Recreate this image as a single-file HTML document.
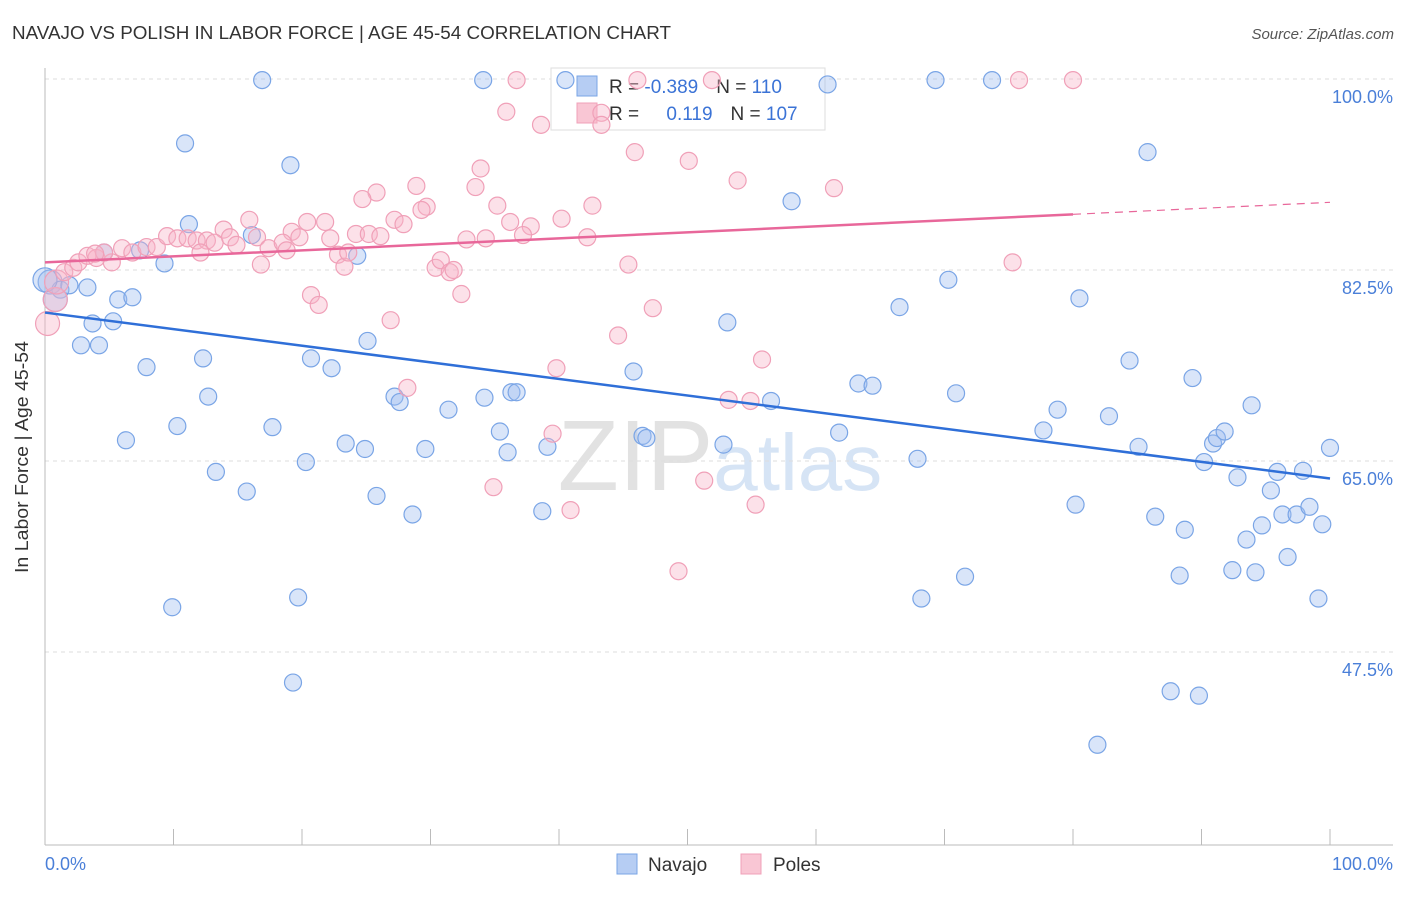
<!DOCTYPE html>
<html><head><meta charset="utf-8"><style>
body{margin:0;background:#fff;font-family:"Liberation Sans",sans-serif}
svg text{font-family:"Liberation Sans",sans-serif}
</style></head><body>
<svg id="c" width="1406" height="892" viewBox="0 0 1406 892">
<text x="12" y="39" font-size="18" fill="#333" textLength="659" lengthAdjust="spacingAndGlyphs">NAVAJO VS POLISH IN LABOR FORCE | AGE 45-54 CORRELATION CHART</text>
<text x="1394" y="39" font-size="15" fill="#555" font-style="italic" text-anchor="end">Source: ZipAtlas.com</text>
<text x="720" y="490" font-size="100" fill="#e6e6e6" text-anchor="middle" font-family="Liberation Serif"><tspan fill="#e2e2e2">ZIP</tspan><tspan fill="#d6e4f5" font-family="Liberation Sans" font-size="80">atlas</tspan></text>
<g id="grid"></g>
<line x1="45" y1="68" x2="45" y2="845" stroke="#bbb"/>
<line x1="45" y1="845" x2="1393" y2="845" stroke="#bbb"/>
<g id="xt"></g>
<text x="28" y="457" font-size="18" fill="#333" text-anchor="middle" textLength="232" lengthAdjust="spacingAndGlyphs" transform="rotate(-90 28 457)">In Labor Force | Age 45-54</text>
<text x="45" y="870" font-size="18" fill="#4a7fd8">0.0%</text>
<text x="1393" y="870" font-size="18" fill="#4a7fd8" text-anchor="end">100.0%</text>
<g>
<rect x="551" y="68" width="274" height="62" fill="#fff" stroke="#ddd"/>
<rect x="577" y="76" width="20" height="20" fill="#b6cdf3" stroke="#7aa5e6"/>
<rect x="577" y="103" width="20" height="20" fill="#f9c6d4" stroke="#f0a0b8"/>
<text x="609" y="93" font-size="19" fill="#333">R = <tspan fill="#3b73d6">-0.389</tspan><tspan dx="18" fill="#333">N = </tspan><tspan fill="#3b73d6">110</tspan></text>
<text x="609" y="120" font-size="19" fill="#333">R = <tspan dx="22" fill="#3b73d6">0.119</tspan><tspan dx="18" fill="#333">N = </tspan><tspan fill="#3b73d6">107</tspan></text>
</g>
<g id="pts"></g>
<g id="lines"></g>
<g><rect x="617" y="854" width="20" height="20" fill="#b6cdf3" stroke="#7aa5e6"/><text x="648" y="871" font-size="19" fill="#333">Navajo</text></g>
<g><rect x="741" y="854" width="20" height="20" fill="#f9c6d4" stroke="#f0a0b8"/><text x="773" y="871" font-size="19" fill="#333">Poles</text></g>
</svg>
<script>
const yTicks=[100,82.5,65,47.5];
const yTickLabels=["100.0%","82.5%","65.0%","47.5%"];
const xTicks=[0,10,20,30,40,50,60,70,80,90,100];
const navajoX=[16.9,34.1,40.5,60.9,69.3,73.7,10.9,19.1,85.8,58.1,11.2,16.1,9.3,24.3,7.4,4.6,0.4,1.2,1.9,3.3,0.8,5.7,6.8,3.7,5.3,2.8,4.2,53.1,66.5,70.3,80.5,25.1,7.9,12.3,20.7,22.3,45.8,84.4,89.3,12.7,27.2,27.6,34.2,36.3,36.7,31.4,56.5,63.3,64.4,70.9,78.8,82.8,93.9,6.3,10.3,17.7,23.4,24.9,29.6,35.4,36.0,39.1,46.5,46.8,52.8,61.8,67.9,77.7,85.1,90.9,91.2,91.8,100,90.2,92.8,95.9,97.9,13.3,20.3,15.7,25.8,28.6,38.7,80.2,86.4,88.7,95.4,96.3,97.4,98.4,99.4,94.7,93.5,96.7,9.9,19.7,88.3,92.4,94.2,71.6,68.2,99.1,19.3,87.6,89.8,81.9,0];
const navajoY=[99.9,99.9,99.9,99.5,99.9,99.9,94.1,92.1,93.3,88.8,86.7,85.7,83.1,83.8,84.3,84.1,81.4,80.7,81.1,80.9,79.8,79.8,80.0,77.6,77.8,75.6,75.6,77.7,79.1,81.6,79.9,76.0,73.6,74.4,74.4,73.5,73.2,74.2,72.6,70.9,70.9,70.4,70.8,71.3,71.3,69.7,70.5,72.1,71.9,71.2,69.7,69.1,70.1,66.9,68.2,68.1,66.6,66.1,66.1,67.7,65.8,66.3,67.3,67.1,66.5,67.6,65.2,67.8,66.3,66.6,67.1,67.7,66.2,64.9,63.5,64.0,64.1,64.0,64.9,62.2,61.8,60.1,60.4,61.0,59.9,58.7,62.3,60.1,60.1,60.8,59.2,59.1,57.8,56.2,51.6,52.5,54.5,55.0,54.8,54.4,52.4,52.4,44.7,43.9,43.5,39.0,81.6];
const polesX=[36.7,46.1,51.9,75.8,80.0,35.9,38.6,43.3,43.3,45.9,50.1,33.9,53.9,61.4,28.9,25.8,24.7,33.5,42.6,35.2,29.7,29.3,15.9,13.9,20.4,21.8,27.2,27.9,36.2,37.8,40.2,42.2,37.2,32.8,34.3,19.2,19.8,22.2,24.2,25.2,26.1,0.2,0.8,0.9,1.5,2.2,2.6,3.3,4.0,5.2,6.0,6.8,7.9,8.7,9.5,10.3,11.1,11.8,12.6,13.2,14.4,14.9,16.5,17.4,18.5,18.8,16.8,22.8,23.3,23.6,30.4,30.8,31.5,31.8,32.4,20.7,21.3,26.9,45.4,47.3,44.6,55.8,75.3,39.8,28.2,53.2,54.9,39.5,34.9,40.9,51.3,55.3,49.3,12.1,4.6,3.9];
const polesY=[99.9,99.9,99.9,99.9,99.9,97.0,95.8,96.9,95.8,93.3,92.5,91.8,90.7,90.0,90.2,89.6,89.0,90.1,88.4,88.4,88.3,88.0,87.1,86.2,86.9,86.9,87.1,86.7,86.9,86.5,87.2,85.5,85.7,85.3,85.4,86.0,85.5,85.4,85.8,85.8,85.6,77.6,79.8,81.4,82.3,82.7,83.2,83.8,83.6,83.2,84.5,84.1,84.6,84.6,85.6,85.4,85.4,85.2,85.2,85.0,85.5,84.8,85.5,84.5,85.0,84.3,83.0,83.9,82.8,84.1,82.7,83.4,82.3,82.5,80.3,80.2,79.3,77.9,83.0,79.0,76.5,74.3,83.2,73.5,71.7,70.6,70.5,67.5,62.6,60.5,63.2,61.0,54.9,84.1,84.1,84.0];
const navajoTrend=[78.6,63.4];
const polesTrend=[83.2,88.7];
const polesSolidEnd=80;
const NS="http://www.w3.org/2000/svg";
const sx=v=>45+v*12.85, sy=v=>79+(100-v)*10.914;
function mk(tag,attrs,parent){const e=document.createElementNS(NS,tag);for(const k in attrs)e.setAttribute(k,attrs[k]);parent.appendChild(e);return e;}
const grid=document.getElementById('grid');
yTicks.forEach((t,i)=>{
  const l=mk('line',{x1:45,x2:1393,y1:sy(t),y2:sy(t),stroke:'#ddd','stroke-dasharray':'4,4'},grid);
  
  
  const tx=mk('text',{x:1393,y:sy(t)+24,'font-size':18,fill:'#4a7fd8','text-anchor':'end'},grid);
  tx.textContent=yTickLabels[i];
  
  
});
const xt=document.getElementById('xt');
xTicks.forEach(t=>{
  const l=mk('line',{x1:sx(t),x2:sx(t),y1:829,y2:845,stroke:'#bbb'},xt);
  
  
});
const pts=document.getElementById('pts');
navajoX.forEach((x,i)=>{
  const c=mk('circle',{cx:sx(x),cy:sy(navajoY[i]),r:x<1?12:8.5,fill:'rgba(160,190,240,0.4)',stroke:'#7aa5e6','stroke-width':1.2},pts);
  
  
});
polesX.forEach((x,i)=>{
  const c=mk('circle',{cx:sx(x),cy:sy(polesY[i]),r:x<1?12:8.5,fill:'rgba(248,180,200,0.4)',stroke:'#f0a0b8','stroke-width':1.2},pts);
  
  
});
const lines=document.getElementById('lines');
const nl=mk('line',{x1:sx(0),y1:sy(navajoTrend[0]),x2:sx(100),y2:sy(navajoTrend[1]),stroke:'#2f6fd8','stroke-width':2.5},lines);


const pAt=x=>polesTrend[0]+(polesTrend[1]-polesTrend[0])*x/100;
const pl=mk('line',{x1:sx(0),y1:sy(pAt(0)),x2:sx(polesSolidEnd),y2:sy(pAt(polesSolidEnd)),stroke:'#e8679a','stroke-width':2.5},lines);


const pd=mk('line',{x1:sx(polesSolidEnd),y1:sy(pAt(polesSolidEnd)),x2:sx(100),y2:sy(pAt(100)),stroke:'#e8679a','stroke-width':1.2,'stroke-dasharray':'8,6'},lines);


</script>
</body></html>
